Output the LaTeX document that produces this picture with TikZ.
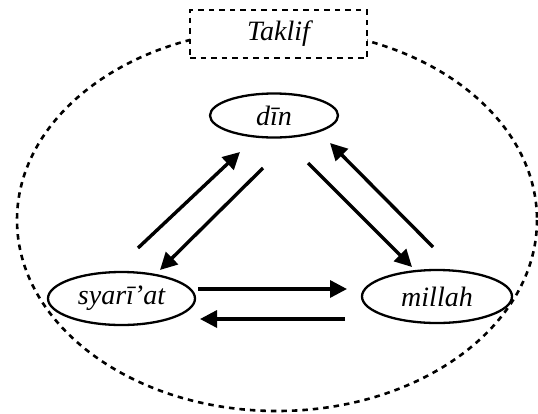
\documentclass[tikz,border=0pt]{standalone}
\usepackage{fontspec}
\setmainfont{Liberation Serif}
\usetikzlibrary{arrows.meta,shapes.geometric}
\tikzset{
  lbl/.style={font=\fontsize{28}{32}\selectfont\itshape},
  oval/.style={ellipse,draw,line width=2.3pt,lbl,inner sep=0pt,fill=white},
  arr/.style={line width=3.4pt,-{Triangle[length=17pt,width=17pt]}},
  dsh/.style={line width=2.6pt,dash pattern=on 5.5pt off 5pt}
}
\begin{document}
\begin{tikzpicture}[x=1pt,y=-1pt]
\useasboundingbox (0,0) rectangle (538,413);
\draw[dsh] (277,220) ellipse [x radius=260, y radius=191];
\node[dsh,draw,fill=white,minimum width=177pt,minimum height=48pt,lbl,inner sep=0pt] (taklif) at (278.5,34) {Taklif};
\node[oval,minimum width=128pt,minimum height=44pt] (din) at (274,115.5) {dīn};
\node[oval,minimum width=147pt,minimum height=53pt] (syariat) at (121.5,298.5) {syarī'at};
\node[oval,minimum width=150pt,minimum height=53pt] (millah) at (437,296.5) {millah};
\coordinate (a1) at (138,248); \coordinate (a2) at (240,152);
\coordinate (b1) at (263,168); \coordinate (b2) at (160,270);
\coordinate (c1) at (308,163); \coordinate (c2) at (412,267);
\coordinate (d1) at (433,247); \coordinate (d2) at (330,143);
\coordinate (e1) at (198,289); \coordinate (e2) at (347,289);
\coordinate (f1) at (345,319); \coordinate (f2) at (200,319);
\draw[arr] (a1) -- (a2);
\draw[arr] (b1) -- (b2);
\draw[arr] (c1) -- (c2);
\draw[arr] (d1) -- (d2);
\draw[arr] (e1) -- (e2);
\draw[arr] (f1) -- (f2);
\end{tikzpicture}
\end{document}
